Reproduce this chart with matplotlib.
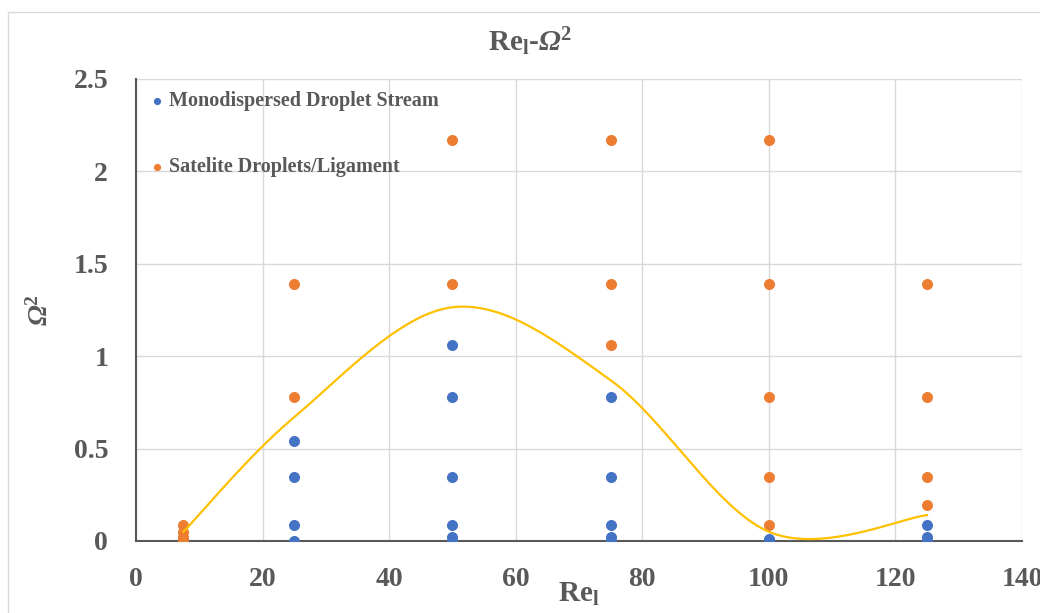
import numpy as np
import matplotlib.pyplot as plt
from matplotlib.patches import Rectangle

plt.rcParams['font.family'] = ['Liberation Serif', 'DejaVu Serif']
plt.rcParams['mathtext.fontset'] = 'custom'
plt.rcParams['mathtext.rm'] = 'Liberation Serif:bold'
plt.rcParams['mathtext.bf'] = 'Liberation Serif:bold'
plt.rcParams['mathtext.it'] = 'Liberation Serif:italic:bold'
# sf slot used for the italic capital omega (mathtext forces greek capitals upright in 'it')
plt.rcParams['mathtext.sf'] = 'Liberation Serif:italic:bold'

# monodispersed droplet stream (blue)
mono_re = [7.5, 7.5, 25, 25, 25, 25, 50, 50, 50, 50, 50, 50,
           75, 75, 75, 75, 75, 100, 100, 125, 125, 125]
mono_om2 = [0.0, 0.01, 0.0, 0.087, 0.347, 0.543, 0.0, 0.022, 0.087, 0.347, 0.781, 1.063,
            0.0, 0.022, 0.087, 0.347, 0.781, 0.0, 0.01, 0.0, 0.022, 0.087]

# satellite droplets / ligament (orange)
sat_re = [7.5, 7.5, 7.5, 7.5, 25, 25, 50, 50, 75, 75, 75,
          100, 100, 100, 100, 100, 125, 125, 125, 125]
sat_om2 = [0.0, 0.022, 0.05, 0.087, 0.781, 1.389, 1.389, 2.17, 1.063, 1.389, 2.17,
           0.087, 0.347, 0.781, 1.389, 2.17, 0.195, 0.347, 0.781, 1.389]

# boundary curve (smoothed line through these points)
curve_re = [7.5, 25, 50, 75, 100, 125]
curve_om2 = [0.05, 0.67, 1.265, 0.87, 0.05, 0.14]

BLUE = '#4472C4'
ORANGE = '#ED7D31'
YELLOW = '#FFC000'
GRAY = '#595959'


def smooth_curve(xs, ys, n=60):
    # excel-like smoothed line: catmull-rom bezier segments
    pts = np.column_stack([xs, ys]).astype(float)
    ext = np.vstack([pts[0], pts, pts[-1]])
    out = []
    t = np.linspace(0, 1, n)[:, None]
    for i in range(1, len(ext) - 2):
        p0, p1 = ext[i], ext[i + 1]
        c1 = p0 + (ext[i + 1] - ext[i - 1]) / 6
        c2 = p1 - (ext[i + 2] - ext[i]) / 6
        seg = ((1 - t) ** 3) * p0 + 3 * ((1 - t) ** 2) * t * c1 + 3 * (1 - t) * t ** 2 * c2 + t ** 3 * p1
        out.append(seg)
    out = np.vstack(out)
    return out[:, 0], out[:, 1]


fig = plt.figure(figsize=(10.4, 6.13), dpi=100)
fig.patches.append(Rectangle((8 / 1040, -0.1), 1.2, 1 - 12 / 613 + 0.1, transform=fig.transFigure,
                             fill=False, edgecolor='#D9D9D9', linewidth=1))
ax = fig.add_axes([136 / 1040, 1 - 541 / 613, (1022 - 136) / 1040, (541 - 79) / 613])

ax.scatter(mono_re, mono_om2, s=48, color=BLUE, zorder=3, label='Monodispersed Droplet Stream')
ax.scatter(sat_re, sat_om2, s=48, color=ORANGE, zorder=3, label='Satelite Droplets/Ligament')
cx, cy = smooth_curve(curve_re, curve_om2)
ax.plot(cx, cy, color=YELLOW, linewidth=1.6, zorder=4)

ax.set_xlim(0, 140)
ax.set_ylim(0, 2.5)
ax.set_xticks(np.arange(0, 141, 20))
ax.set_yticks([0, 0.5, 1, 1.5, 2, 2.5])
ax.set_yticklabels(['0', '0.5', '1', '1.5', '2', '2.5'])
ax.grid(True, color='#D9D9D9', linewidth=1)
ax.set_axisbelow(True)
for s in ['top', 'right']:
    ax.spines[s].set_visible(False)
for s in ['left', 'bottom']:
    ax.spines[s].set_color(GRAY)
    ax.spines[s].set_linewidth(1.5)
    ax.spines[s].set_zorder(2)
ax.tick_params(length=0, labelsize=20, colors=GRAY)
ax.tick_params(axis='x', pad=19)
ax.tick_params(axis='y', pad=20)
for lbl in ax.get_xticklabels() + ax.get_yticklabels():
    lbl.set_fontweight('bold')

ax.set_xlabel(r'$\mathrm{Re}_\mathrm{l}$', fontsize=21, color=GRAY, labelpad=-8)
ax.set_ylabel(r'$\mathsf{Ω}^\mathrm{2}$', fontsize=20, color=GRAY, labelpad=14)
fig.text(530 / 1040, 1 - 42 / 613, r'$\mathrm{Re}_\mathrm{l}$-$\mathsf{Ω}^\mathrm{2}$',
         fontsize=21, fontweight='bold', color=GRAY, ha='center', va='center')

leg = ax.legend(loc='upper left', bbox_to_anchor=(-0.015, 1.005), frameon=False, fontsize=14.5,
                labelspacing=2.3, handletextpad=-0.4, markerscale=0.6, borderaxespad=0.3)
for t in leg.get_texts():
    t.set_color(GRAY)
    t.set_fontweight('bold')

fig.savefig('out.png', dpi=100)
